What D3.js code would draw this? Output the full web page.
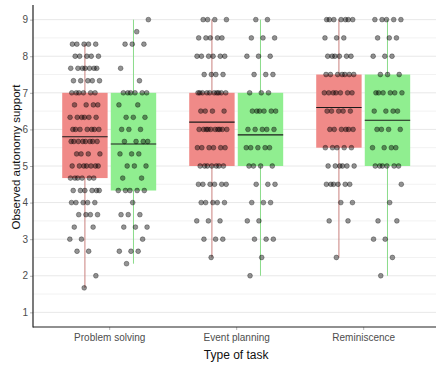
<!DOCTYPE html>
<html><head><meta charset="utf-8">
<script src="https://cdn.jsdelivr.net/npm/d3@7"></script>
<style>body{margin:0;background:#fff} svg{display:block;font-family:"Liberation Sans",Arial,sans-serif}</style>
</head><body><svg id="c" width="436" height="365"></svg>
<script>
// ---- data ----
const categories = ["Problem solving", "Event planning", "Reminiscence"];
const groupNames = ["A", "B"];
const yTicks = [1, 2, 3, 4, 5, 6, 7, 8, 9];
// box statistics, order: [cat1 A, cat1 B, cat2 A, cat2 B, cat3 A, cat3 B]
const boxLower  = [1.67, 2.33, 2.5, 2, 2.5, 2];
const boxQ1     = [4.67, 4.33, 5, 5, 5.5, 5];
const boxMedian = [5.8, 5.6, 6.2, 5.85, 6.6, 6.25];
const boxQ3     = [7, 7, 7, 7, 7.5, 7.5];
const boxUpper  = [8.33, 9, 9, 9, 9, 9];
// observed points: levels and counts per level
const levelsThirds = [9, 8.67, 8.33, 8, 7.67, 7.33, 7, 6.67, 6.33, 6, 5.67, 5.33, 5, 4.67, 4.33, 4, 3.67, 3.33, 3, 2.67, 2.33, 2, 1.67];
const countsPS_A = [0, 0, 5, 5, 7, 5, 6, 4, 6, 7, 8, 4, 7, 6, 6, 5, 4, 2, 2, 2, 0, 1, 1];
const countsPS_B = [1, 1, 3, 0, 1, 1, 6, 2, 3, 3, 4, 3, 3, 2, 5, 1, 3, 3, 1, 3, 1, 0, 0];
const levelsHalves = [9, 8.5, 8, 7.5, 7, 6.5, 6, 5.5, 5, 4.5, 4, 3.5, 3, 2.5, 2];
const countsEP_A = [4, 5, 6, 4, 10, 4, 10, 6, 7, 6, 5, 3, 3, 1, 0];
const countsEP_B = [2, 3, 3, 3, 3, 6, 5, 5, 4, 3, 3, 2, 3, 1, 1];
const countsRM_A = [7, 3, 6, 7, 7, 5, 6, 5, 6, 6, 2, 2, 0, 1, 0];
const countsRM_B = [5, 3, 3, 3, 6, 4, 4, 4, 6, 1, 1, 2, 2, 1, 1];

const pointSets = [
  [levelsThirds, countsPS_A], [levelsThirds, countsPS_B],
  [levelsHalves, countsEP_A], [levelsHalves, countsEP_B],
  [levelsHalves, countsRM_A], [levelsHalves, countsRM_B]
];
const fillColors = ["#F08A88", "#90EE90"];
const whiskerColors = ["#C9807E", "#8ADC8A"];

// ---- layout ----
const svg = d3.select("#c");
const pLeft = 33, pTop = 5, pBottom = 327, pRight = 439.4;
const x = d3.scalePoint().domain(categories).range([pLeft, pRight]).padding(0.6);
const step = x.step();
const sub = d3.scaleBand().domain(groupNames).range([-0.37 * step, 0.37 * step]).paddingInner(0.065);
const y = d3.scaleLinear().domain([0.6, 9.4]).range([pBottom, pTop]);

// grid
const g = svg.append("g");
const minor = y.ticks(17).filter(v => !Number.isInteger(v));
g.selectAll(".minor").data(minor).join("line")
  .attr("x1", pLeft).attr("x2", 436).attr("y1", d => y(d)).attr("y2", d => y(d))
  .attr("stroke", "#f2f2f2").attr("stroke-width", 1);
g.selectAll(".major").data(yTicks).join("line")
  .attr("x1", pLeft).attr("x2", 436).attr("y1", d => y(d)).attr("y2", d => y(d))
  .attr("stroke", "#e8e8e8").attr("stroke-width", 1);

// boxes
const boxes = [];
categories.forEach((c, ci) => groupNames.forEach((gn, gi) => {
  const k = ci * 2 + gi;
  boxes.push({c, gn, gi, k, cx: x(c) + sub(gn) + sub.bandwidth() / 2, x0: x(c) + sub(gn), w: sub.bandwidth()});
}));
const bg = svg.append("g");
bg.selectAll(".wh").data(boxes).join("line")
  .attr("x1", d => d.cx).attr("x2", d => d.cx)
  .attr("y1", d => y(boxLower[d.k])).attr("y2", d => y(boxUpper[d.k]))
  .attr("stroke", d => whiskerColors[d.gi]).attr("stroke-width", 1);
bg.selectAll(".bx").data(boxes).join("rect")
  .attr("x", d => d.x0).attr("width", d => d.w)
  .attr("y", d => y(boxQ3[d.k])).attr("height", d => y(boxQ1[d.k]) - y(boxQ3[d.k]))
  .attr("fill", d => fillColors[d.gi]);
bg.selectAll(".md").data(boxes).join("line")
  .attr("x1", d => d.x0).attr("x2", d => d.x0 + d.w)
  .attr("y1", d => y(boxMedian[d.k])).attr("y2", d => y(boxMedian[d.k]))
  .attr("stroke", "#1a1a1a").attr("stroke-width", 1.1);

// points (deterministic jitter)
const pts = [];
boxes.forEach(b => {
  const [lv, ct] = pointSets[b.k];
  let i = 0;
  lv.forEach((v, li) => {
    for (let j = 0; j < ct[li]; j++) {
      const u = ((i + 1) * 0.6180339887 + b.k * 0.37) % 1;
      pts.push({v, px: b.cx + (u - 0.5) * 0.24 * step});
      i++;
    }
  });
});
svg.append("g").selectAll("circle").data(pts).join("circle")
  .attr("cx", d => d.px).attr("cy", d => y(d.v)).attr("r", 2.4)
  .attr("fill", "rgba(0,0,0,0.42)").attr("stroke", "rgba(0,0,0,0.55)").attr("stroke-width", 0.6);

// axes
const ya = svg.append("g").attr("transform", `translate(${pLeft},0)`)
  .call(d3.axisLeft(y).tickValues(yTicks).tickSize(3).tickPadding(2).tickFormat(d3.format("d")));
ya.select(".domain").remove();
const xa = svg.append("g").attr("transform", `translate(0,${pBottom})`)
  .call(d3.axisBottom(x).tickSize(3).tickPadding(4));
xa.select(".domain").remove();
[ya, xa].forEach(a => {
  a.selectAll(".tick line").attr("stroke", "#b3b3b3");
  a.selectAll(".tick text").attr("fill", "#4d4d4d").style("font-size", "10px").style("font-family", '"Liberation Sans", Arial, sans-serif');
});
svg.append("line").attr("x1", pLeft).attr("x2", pLeft).attr("y1", pTop).attr("y2", pBottom + 0.5).attr("stroke", "#222").attr("stroke-width", 1.2);
svg.append("line").attr("x1", pLeft).attr("x2", 436).attr("y1", pBottom).attr("y2", pBottom).attr("stroke", "#222").attr("stroke-width", 1.2);

// titles
svg.append("text").attr("x", x(categories[1])).attr("y", 359).attr("text-anchor", "middle")
  .style("font-size", "12px").attr("fill", "#111").text("Type of task");
svg.append("text").attr("transform", "translate(16,157) rotate(-90)").attr("text-anchor", "middle")
  .attr("dy", "0.35em").style("font-size", "11.5px").attr("fill", "#111").text("Observed autonomy support");
</script></body></html>
